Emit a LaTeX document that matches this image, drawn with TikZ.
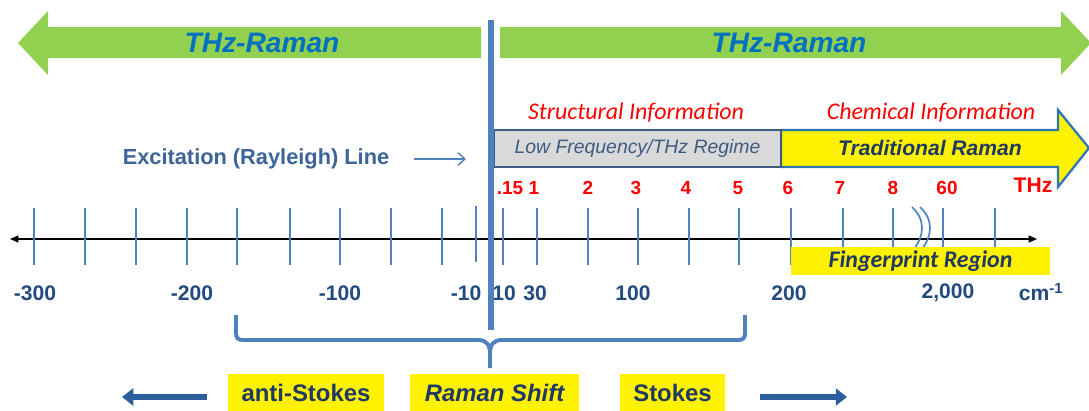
\documentclass[tikz,border=0pt]{standalone}
\usepackage{fontspec}
\setmainfont{Liberation Sans}
\newfontfamily\calibri{Carlito}
\usetikzlibrary{arrows.meta}
\definecolor{thzgreen}{HTML}{92D050}
\definecolor{thzblue}{HTML}{0070C0}
\definecolor{ruleblue}{HTML}{4F81BD}
\definecolor{edgeblue}{HTML}{2E75B6}
\definecolor{darknavy}{HTML}{1F3864}
\definecolor{scaleblue}{HTML}{234A7E}
\definecolor{softblue}{HTML}{3D6499}
\definecolor{shiftblue}{HTML}{2A5E9C}
\definecolor{lowgray}{HTML}{D9D9D9}
\definecolor{lowedge}{HTML}{3E5B80}

\begin{document}
\begin{tikzpicture}[x=0.025cm, y=-0.025cm,
every node/.style={inner sep=0pt, align=center},
banner/.style={font=\fontsize{20}{24}\selectfont\bfseries\itshape, text=thzblue},
info/.style={font=\calibri\fontsize{17}{20}\selectfont\itshape, text=red},
thz/.style={font=\fontsize{13.5}{16}\selectfont\bfseries, text=red},
wave/.style={font=\fontsize{15}{18}\selectfont\bfseries, text=scaleblue},
yellowbox/.style={fill=yellow, minimum height=0.95cm, font=\fontsize{17}{20}\selectfont\bfseries, text=darknavy},
tick/.style={draw=ruleblue, line width=0.9pt},
bracestyle/.style={draw=ruleblue, line width=2.8pt},
shiftarrow/.style={draw=shiftblue, line width=4.3pt, -{Triangle[length=8pt,width=12pt]}}]
\useasboundingbox (0,0) rectangle (1089,410);

% THz-Raman banners
\fill[thzgreen] (481,27) -- (48,27) -- (48,11) -- (18,43) -- (48,75) -- (48,58) -- (481,58) -- cycle;
\fill[thzgreen] (500,27) -- (1061,27) -- (1061,11) -- (1091,43) -- (1061,75) -- (1061,58) -- (500,58) -- cycle;
\node[banner] (thzleft) at (262,43) {THz-Raman};
\node[banner] (thzright) at (789,43) {THz-Raman};

% regimes
\node[info] (struct) at (636,113) {Structural Information};
\node[info] (chem) at (931,113) {Chemical Information};
\filldraw[fill=yellow, draw=edgeblue, line width=1.6pt] (781,130) -- (1058,130) -- (1058,110) -- (1089,148) -- (1058,187) -- (1058,167) -- (781,167) -- cycle;
\node[draw=lowedge, line width=1.4pt, fill=lowgray, minimum width=7.175cm, minimum height=0.925cm,
  font=\fontsize{13.8}{16}\selectfont\itshape, text=lowedge] (lowfreq) at (637.5,148.5) {Low Frequency/THz Regime};
\node[font=\fontsize{15}{18}\selectfont\bfseries\itshape, text=darknavy] (trad) at (930,148) {Traditional Raman};

\node[font=\fontsize{15.5}{18}\selectfont\bfseries, text=softblue] (excite) at (256,159) {Excitation (Rayleigh) Line};
\coordinate (exciteend) at (466,159);
\draw[ruleblue, line width=1pt, -{Straight Barb[length=5pt,width=9pt]}] ([xshift=0.6cm]excite.east) -- (exciteend);

% THz scale
\node[thz] (f015) at (510,188) {.15};
\node[thz] (f1) at (534,188) {1};
\node[thz] (f2) at (588,188) {2};
\node[thz] (f3) at (636,188) {3};
\node[thz] (f4) at (686,188) {4};
\node[thz] (f5) at (738,188) {5};
\node[thz] (f6) at (788,188) {6};
\node[thz] (f7) at (840,188) {7};
\node[thz] (f8) at (893,188) {8};
\node[thz] (f60) at (947,188) {60};
\node[thz, font=\fontsize{15}{18}\selectfont\bfseries] (thzunit) at (1033,185) {THz};

% axis
\coordinate (axisleft) at (10,239);
\coordinate (axisright) at (1037,239);
\draw[line width=1pt, {Triangle[length=6pt,width=5pt]}-{Triangle[length=6pt,width=5pt]}] (axisleft) -- (axisright);
\draw[tick] (34,208) -- (34,265) (85,208) -- (85,265) (136,208) -- (136,265) (187,208) -- (187,265)
  (237,208) -- (237,265) (290,208) -- (290,265) (340,208) -- (340,265) (391,208) -- (391,265)
  (442,208) -- (442,265) (476,206) -- (476,262) (503,208) -- (503,265) (537,208) -- (537,265)
  (588,208) -- (588,265) (638,208) -- (638,265) (689,208) -- (689,265) (739,208) -- (739,265)
  (791,208) -- (791,265) (843,208) -- (843,265) (893,208) -- (893,265) (943,208) -- (943,265)
  (995,208) -- (995,265);
\draw[tick, line width=1.2pt] (912,207) .. controls (926,220) and (924,236) .. (914,249)
  (920,207) .. controls (934,220) and (932,236) .. (922,249);
\node[fill=yellow, minimum width=6.475cm, minimum height=0.7cm, text=darknavy,
  font=\calibri\fontsize{17}{20}\selectfont\bfseries\itshape] (fingerprint) at (920.5,261) {Fingerprint Region};

\node[wave] (w300) at (35,293) {-300};
\node[wave] (w200) at (192,293) {-200};
\node[wave] (w100) at (340,293) {-100};
\node[wave] (w10) at (466,293) {-10};
\node[wave] (p10) at (504,293) {10};
\node[wave] (p30) at (535,293) {30};
\node[wave] (p100) at (633,293) {100};
\node[wave] (p200) at (789,293) {200};
\node[wave] (p2000) at (948,293) {2,000};
\node[wave] (wavenum) at (1041,292) {cm\textsuperscript{-1}};

% Raman shift brace
\draw[bracestyle] (236,315) -- (236,333) .. controls (236,338) and (238,340) .. (243,340) -- (478,340)
  .. controls (487,340) and (490,345) .. (490,354) -- (490,368);
\draw[bracestyle] (745,315) -- (745,333) .. controls (745,338) and (743,340) .. (738,340) -- (502,340)
  .. controls (493,340) and (490,345) .. (490,354);

\node[yellowbox, minimum width=3.9cm] (antistokes) at (306,393) {anti-Stokes};
\node[yellowbox, minimum width=4.225cm, font=\fontsize{17}{20}\selectfont\bfseries\itshape] (ramanshift) at (494.5,393) {Raman Shift};
\node[yellowbox, minimum width=2.625cm] (stokes) at (672.5,393) {Stokes};
\coordinate (antiend) at (122,397);
\coordinate (stokesend) at (847,397);
\draw[shiftarrow] ([shift={(-21,4)}]antistokes.west) -- (antiend);
\draw[shiftarrow] ([shift={(35,4)}]stokes.east) -- (stokesend);

% excitation line
\coordinate (railtop) at (491,20);
\coordinate (railbottom) at (491,330);
\draw[ruleblue, line width=3.6pt] (railtop) -- (railbottom);
\end{tikzpicture}
\end{document}
